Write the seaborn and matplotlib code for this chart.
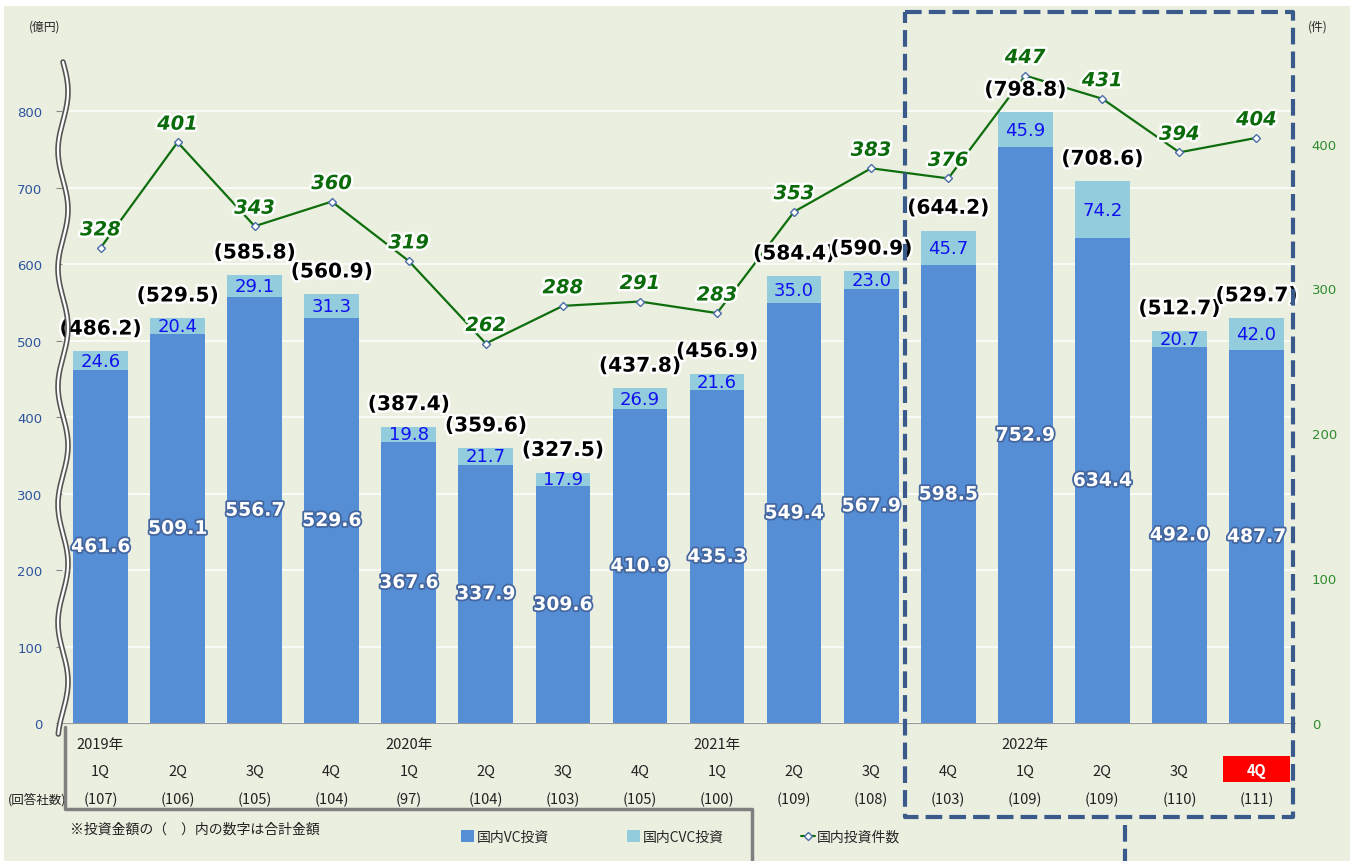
"""
VC investment by quarter: stacked bars (domestic VC / CVC) with deal count line.
"""

import numpy as np
import pandas as pd
import matplotlib
matplotlib.use("Agg")
import matplotlib.pyplot as plt
import matplotlib.patheffects as pe
from matplotlib.lines import Line2D
from matplotlib.patches import Patch, Rectangle
from matplotlib.transforms import blended_transform_factory
import seaborn as sns

# ---- data ----
quarters = ["1Q", "2Q", "3Q", "4Q", "1Q", "2Q", "3Q", "4Q",
            "1Q", "2Q", "3Q", "4Q", "1Q", "2Q", "3Q", "4Q"]
years = ["2019年", "", "", "", "2020年", "", "", "",
         "2021年", "", "", "", "2022年", "", "", ""]
vc_invest = [461.6, 509.1, 556.7, 529.6, 367.6, 337.9, 309.6, 410.9,
             435.3, 549.4, 567.9, 598.5, 752.9, 634.4, 492.0, 487.7]
cvc_invest = [24.6, 20.4, 29.1, 31.3, 19.8, 21.7, 17.9, 26.9,
              21.6, 35.0, 23.0, 45.7, 45.9, 74.2, 20.7, 42.0]
total_invest = [486.2, 529.5, 585.8, 560.9, 387.4, 359.6, 327.5, 437.8,
                456.9, 584.4, 590.9, 644.2, 798.8, 708.6, 512.7, 529.7]
deal_count = [328, 401, 343, 360, 319, 262, 288, 291,
              283, 353, 383, 376, 447, 431, 394, 404]
respondents = [107, 106, 105, 104, 97, 104, 103, 105,
               100, 109, 108, 103, 109, 109, 110, 111]
left_ticks = [0, 100, 200, 300, 400, 500, 600, 700, 800]
right_ticks = [0, 100, 200, 300, 400]

# ---- style ----
BG = "#EBEFDF"
VC_COLOR = "#558ED5"
CVC_COLOR = "#93CDDD"
LINE_COLOR = "#0E6E0E"
LABEL_GREEN = "#0B6B0B"
BOX_COLOR = "#3B5A8C"
W, H = 1350, 862

sns.set_style("white")
plt.rcParams["font.family"] = ["Noto Sans CJK JP", "DejaVu Sans"]

df = pd.DataFrame({
    "idx": np.arange(len(quarters)),
    "vc": vc_invest,
    "cvc": cvc_invest,
    "total": total_invest,
    "count": deal_count,
})

fig = plt.figure(figsize=(W / 100, H / 100), dpi=100, facecolor=BG)
ax = fig.add_axes([62 / W, (H - 724) / H, (1295 - 62) / W, 659 / H])
ax.set_facecolor(BG)

# stacked bars: total in CVC colour, VC on top of it from zero
sns.barplot(data=df, x="idx", y="total", color=CVC_COLOR, width=0.71,
            saturation=1, linewidth=0, edgecolor="none", ax=ax, zorder=2)
sns.barplot(data=df, x="idx", y="vc", color=VC_COLOR, width=0.71,
            saturation=1, linewidth=0, edgecolor="none", ax=ax, zorder=3)

ax.set_xlim(-0.5, 15.5)
ax.set_ylim(0, 862)
ax.set_yticks(left_ticks)
ax.set_yticklabels([str(t) for t in left_ticks], family="DejaVu Sans",
                   fontsize=9.5, color="#2E55A0")
ax.tick_params(axis="y", length=4, color="#888888", pad=10)
ax.grid(axis="y", color="white", linewidth=1.1, zorder=0)
ax.set_axisbelow(True)
ax.set_xticks(np.arange(-0.5, 16, 1))
ax.set_xticklabels([])
ax.tick_params(axis="x", length=4, color="#999999")
ax.set_xlabel("")
ax.set_ylabel("")
for side in ["left", "right", "top"]:
    ax.spines[side].set_visible(False)
ax.spines["bottom"].set_color("#999999")

# deal count line on secondary axis
ax2 = ax.twinx()
sns.lineplot(data=df, x="idx", y="count", ax=ax2, color=LINE_COLOR,
             linewidth=1.6, marker="D", markersize=4.5,
             markerfacecolor="white", markeredgecolor="#4A6DA8",
             markeredgewidth=1, zorder=5)
ax2.set_ylim(0, 455)
ax2.set_xlim(-0.5, 15.5)
ax2.set_yticks(right_ticks)
ax2.set_yticklabels([str(t) for t in right_ticks], family="DejaVu Sans",
                    fontsize=9.5, color="#2E8B2E")
ax2.tick_params(axis="y", length=0, pad=12)
ax2.set_ylabel("")
for side in ["left", "right", "top", "bottom"]:
    ax2.spines[side].set_visible(False)

glow_white = [pe.withStroke(linewidth=3.5, foreground="white")]
glow_dark = [pe.withStroke(linewidth=2.6, foreground="#4467A0")]

for i in range(len(quarters)):
    ax.text(i, vc_invest[i] / 2, f"{vc_invest[i]:.1f}", ha="center", va="center",
            family="DejaVu Sans", fontsize=13.5, fontweight="bold",
            color="white", path_effects=glow_dark, zorder=6)
    ax.text(i, vc_invest[i] + cvc_invest[i] / 2, f"{cvc_invest[i]:.1f}",
            ha="center", va="center", family="DejaVu Sans", fontsize=13,
            color="#1010F0", zorder=6)
    ax2.annotate(f"({total_invest[i]:.1f})",
                 (i, total_invest[i] * 455 / 862),
                 xytext=(0, 16), textcoords="offset points", ha="center",
                 va="center", family="DejaVu Sans", fontsize=14.5,
                 fontweight="bold", color="black", path_effects=glow_white,
                 zorder=7)
    ax2.annotate(f"{deal_count[i]}", (i, deal_count[i]), xytext=(0, 13),
                 textcoords="offset points", ha="center", va="center",
                 family="DejaVu Sans", fontsize=14, fontweight="bold",
                 fontstyle="italic", color=LABEL_GREEN,
                 path_effects=glow_white, zorder=7)

# category labels below the axis
tr = blended_transform_factory(ax.transData, fig.transFigure)
for i in range(len(quarters)):
    if years[i]:
        ax.text(i, 1 - 745 / H, years[i], transform=tr, ha="center",
                va="center", fontsize=10.5, color="#222222")
    if i == len(quarters) - 1:
        ax.add_patch(Rectangle((i - 0.43, 1 - 783 / H), 0.86, 26 / H,
                               transform=tr, facecolor="#FF0000",
                               edgecolor="none", clip_on=False))
        ax.text(i, 1 - 771 / H, quarters[i], transform=tr, ha="center",
                va="center", fontsize=10.5, fontweight="bold", color="white")
    else:
        ax.text(i, 1 - 772 / H, quarters[i], transform=tr, ha="center",
                va="center", fontsize=10.5, color="#222222")
    ax.text(i, 1 - 800 / H, f"({respondents[i]})", transform=tr,
            ha="center", va="center", fontsize=10.5, color="#222222")

fig.text(8 / W, 1 - 800 / H, "(回答社数)", ha="left", va="center",
         fontsize=9, color="#222222")
fig.text(45 / W, 1 - 27 / H, "(億円)", ha="center", va="center",
         fontsize=8.5, color="#222222")
fig.text(1318 / W, 1 - 27 / H, "(件)", ha="center", va="center",
         fontsize=8.5, color="#222222")
fig.text(70 / W, 1 - 830 / H, "※投資金額の（　）内の数字は合計金額",
         ha="left", va="center", fontsize=10, color="#222222")

# legend
handles = [
    Patch(facecolor=VC_COLOR, edgecolor="none"),
    Patch(facecolor=CVC_COLOR, edgecolor="none"),
    Line2D([], [], color=LINE_COLOR, marker="D", markersize=4,
           markerfacecolor="white", markeredgecolor="#4A6DA8"),
]
fig.legend(handles, ["国内VC投資", "国内CVC投資", "国内投資件数"],
           loc="center left", bbox_to_anchor=(448 / W, 1 - 838 / H), ncol=3,
           frameon=False, fontsize=10, handlelength=1.0, handleheight=0.9,
           handletextpad=0.15, columnspacing=5.6)

# decorations: white border strips, axis break, grey frame, dashed box
fig.add_artist(Rectangle((0, 1 - 7 / H), 1, 7 / H, transform=fig.transFigure,
                         facecolor="white", edgecolor="none"))
fig.add_artist(Rectangle((0, 0), 4 / W, 1, transform=fig.transFigure,
                         facecolor="white", edgecolor="none"))

wy = np.linspace(63, 735, 400)
wx = 63 + 5 * np.sin(2 * np.pi * (wy - 63) / 118)
fig.add_artist(Line2D(wx / W, 1 - wy / H, color="#555555", linewidth=4,
                      transform=fig.transFigure, zorder=10))
fig.add_artist(Line2D(wx / W, 1 - wy / H, color="white", linewidth=1.6,
                      transform=fig.transFigure, zorder=11))

frame_x = np.array([65, 65, 752, 752])
frame_y = np.array([728, 810, 810, 862])
fig.add_artist(Line2D(frame_x / W, 1 - frame_y / H, color="#808080",
                      linewidth=2.5, transform=fig.transFigure, zorder=9))

dash = (0, (4, 1.7))
box_x = np.array([905, 1293, 1293, 905, 905])
box_y = np.array([13, 13, 818, 818, 13])
fig.add_artist(Line2D(box_x / W, 1 - box_y / H, color=BOX_COLOR,
                      linewidth=3, linestyle=dash,
                      transform=fig.transFigure, zorder=12))
fig.add_artist(Line2D(np.array([1125, 1125]) / W, 1 - np.array([826, 862]) / H,
                      color=BOX_COLOR, linewidth=3, linestyle=dash,
                      transform=fig.transFigure, zorder=12))

fig.savefig("out.png", dpi=100, facecolor=BG)
